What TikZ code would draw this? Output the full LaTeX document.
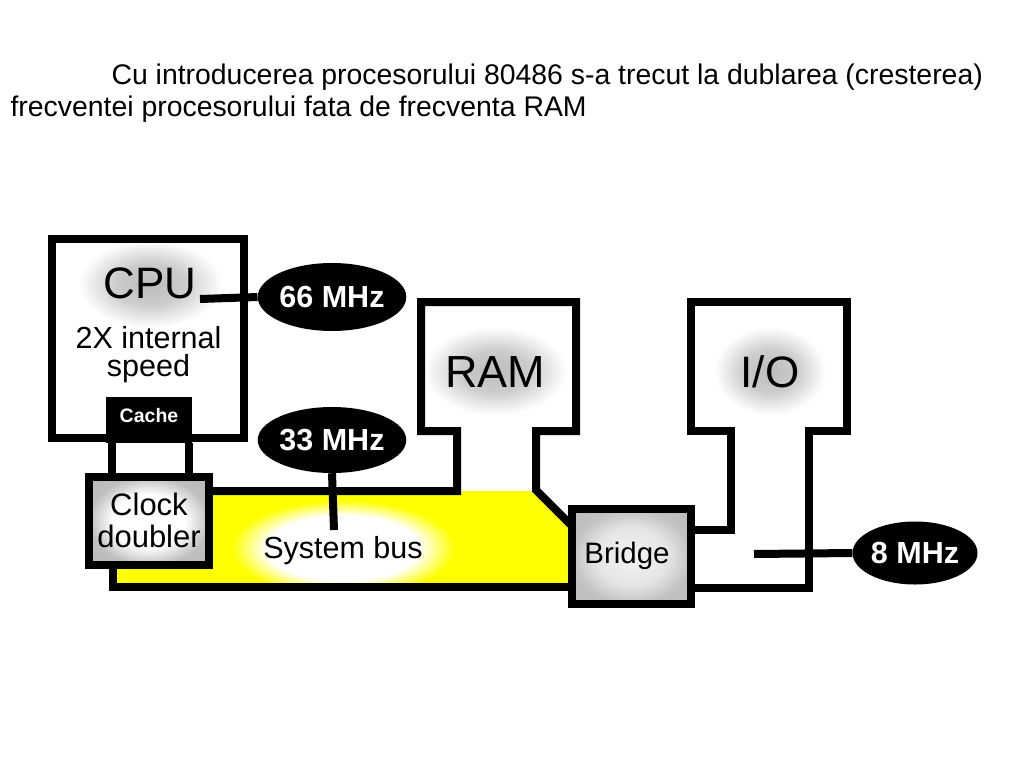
\documentclass[tikz,border=0pt]{standalone}
\usepackage{fontspec}
\setmainfont{Liberation Sans}
\usetikzlibrary{shapes.geometric}
\definecolor{busyellow}{RGB}{255,255,0}
\pgfdeclareradialshading{glowgray}{\pgfpointorigin}{color(0bp)=(black!26); color(12bp)=(black!20); color(25bp)=(white); color(50bp)=(white)}
\pgfdeclareradialshading{glowbus}{\pgfpointorigin}{color(0bp)=(white); color(17bp)=(white); color(25bp)=(busyellow); color(50bp)=(busyellow)}
\pgfdeclareradialshading{clkfill}{\pgfpointorigin}{color(0bp)=(white); color(15bp)=(white); color(25bp)=(black!25); color(50bp)=(black!32)}
\pgfdeclareradialshading{bridgefill}{\pgfpointorigin}{color(0bp)=(black!5); color(15bp)=(black!10); color(25bp)=(black!24); color(50bp)=(black!30)}
\begin{document}
\begin{tikzpicture}[x=1pt,y=-1pt,
  wire/.style={line width=8pt, draw=black},
  freq/.style={ellipse, fill=black, text=white, inner sep=0pt,
    font=\fontsize{30.5}{30.5}\selectfont\bfseries, minimum width=125pt, minimum height=66pt},
  big/.style={anchor=base, font=\fontsize{44}{44}\selectfont},
  mid/.style={anchor=base, font=\fontsize{30.5}{30.5}\selectfont},
  title/.style={anchor=base west, font=\fontsize{28.4}{32}\selectfont},
  cachetext/.style={text=white, font=\fontsize{19.5}{19.5}\selectfont\bfseries}
]
\useasboundingbox[fill=white] (0,0) rectangle (1024,768);

% title
\node[title] (t1) at (108,84) {Cu introducerea procesorului 80486 s-a trecut la dublarea (cresterea)};
\node[title] (t2) at (7,116) {frecventei procesorului fata de frecventa RAM};

% system bus (yellow) with white glow
\fill[busyellow] (113,491) -- (536,491) -- (572,526) -- (572,587) -- (113,587) -- cycle;
\begin{scope}
  \clip (113,495) -- (536,495) -- (572,530) -- (572,583) -- (113,583) -- cycle;
  \shade[shading=glowbus] (343,548) ellipse (112 and 48);
\end{scope}

% grey glows behind the big labels
\begin{scope}
  \clip (56,243) rectangle (240,434);
  \shade[shading=glowgray] (150,284) ellipse (72 and 44);
\end{scope}
\begin{scope}
  \clip (425,306) rectangle (572,427);
  \shade[shading=glowgray] (495,371) ellipse (72 and 44);
\end{scope}
\begin{scope}
  \clip (695,306) rectangle (843,427);
  \shade[shading=glowgray] (770,371) ellipse (56 and 44);
\end{scope}

% CPU box
\draw[wire] (52,239) rectangle (244,438);
\fill[black] (106,397) rectangle (192,443);
\node[cachetext] (cache) at (149,416) {Cache};
\coordinate (cacheL) at (112,443);
\coordinate (cacheR) at (189,443);

% RAM outline (with its legs to the bus)
\draw[wire] (209,491) -- (457,491) -- (457,431) -- (421,431) -- (421,302) -- (576,302)
  -- (576,431) -- (536,431) -- (536,490) -- (572,526);

% I/O outline (with its legs to the bridge)
\draw[wire] (691,530) -- (731,530) -- (731,431) -- (691,431) -- (691,302) -- (847,302)
  -- (847,431) -- (809,431) -- (809,588) -- (691,588);

% bus bottom line
\draw[wire] (113,565) -- (113,587) -- (572,587);

% clock doubler
\shade[shading=clkfill] (89,477) rectangle (209,565);
\draw[wire] (89,477) rectangle (209,565);
\coordinate (clkL) at (112,473);
\coordinate (clkR) at (189,473);
\draw[wire] (cacheL) -- (clkL);
\draw[wire] (cacheR) -- (clkR);

% bridge
\shade[shading=bridgefill] (572,509) rectangle (691,604);
\draw[wire] (572,509) rectangle (691,604);

% frequencies
\node[freq, minimum height=68pt] (f66) at (332,297) {66 MHz};
\node[freq] (f33) at (332,440) {33 MHz};
\node[freq, minimum height=63pt] (f8) at (915,553) {8 MHz};
\coordinate (cpuclk) at (200,299);
\coordinate (busclk) at (334,530);
\coordinate (ioclk) at (754,554);
\draw[wire] (cpuclk) -- (f66.west);
\draw[wire] (f33.south) -- (busclk);
\draw[wire] (ioclk) -- (f8.west);

% labels
\node[big, font=\fontsize{44}{44}\selectfont] (cpu) at (150,298) {CPU};
\node[mid] (int1) at (148.5,348) {2X internal};
\node[mid] (int2) at (148.5,376) {speed};
\node[big, font=\fontsize{45}{45}\selectfont] (ram) at (495,387) {RAM};
\node[big, font=\fontsize{44}{44}\selectfont] (io) at (770,387) {I/O};
\node[mid, font=\fontsize{31}{31}\selectfont] (clk1) at (149,515) {Clock};
\node[mid, font=\fontsize{31}{31}\selectfont] (clk2) at (149,547) {doubler};
\node[mid, font=\fontsize{30.5}{30.5}\selectfont] (sysbus) at (343,558) {System bus};
\node[mid, font=\fontsize{29.5}{29.5}\selectfont] (bridge) at (627,563) {Bridge};
\end{tikzpicture}
\end{document}
